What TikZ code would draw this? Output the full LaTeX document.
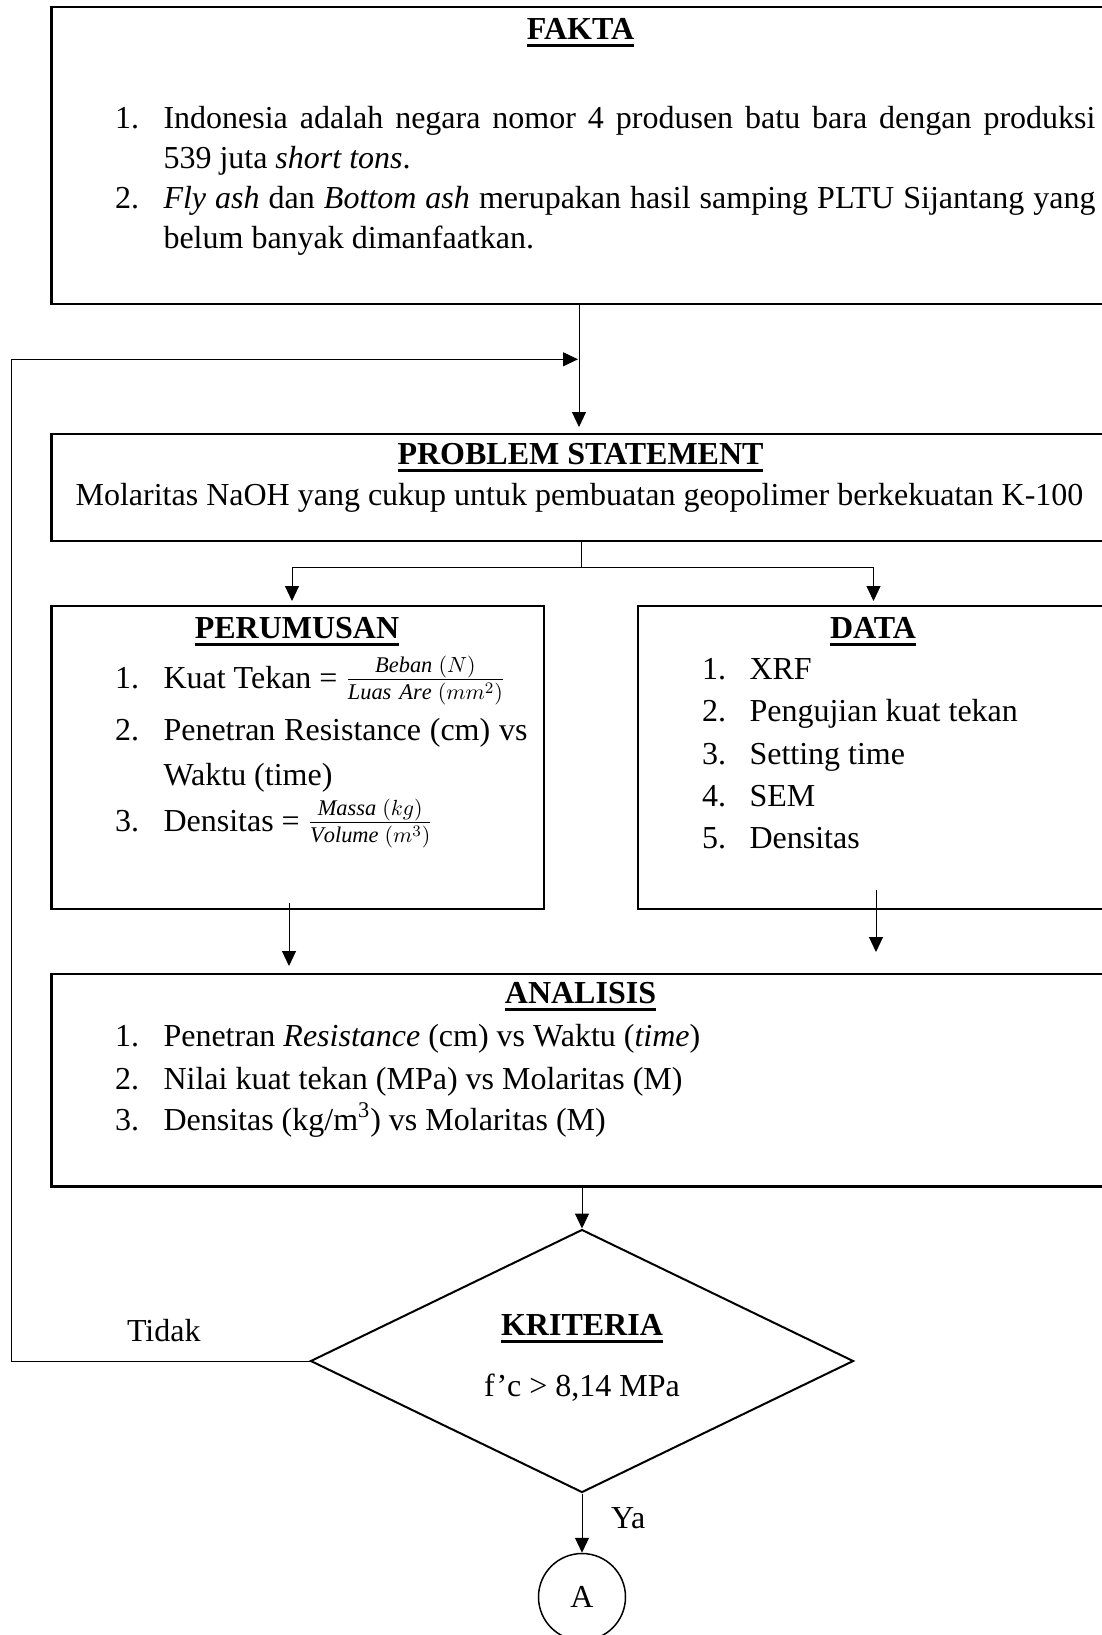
\documentclass[tikz,border=0pt]{standalone}
\usepackage{fontspec}
\setmainfont{Liberation Serif}
\usetikzlibrary{arrows.meta,shapes.geometric}

\newcommand{\isi}{\fontsize{16}{19}\selectfont}
\newcommand{\judul}[1]{{\bfseries\setbox0\hbox{#1}\rlap{\rule[-4pt]{\wd0}{1.6pt}}\box0}}

\tikzset{every picture/.style={line width=0.5pt}}
\tikzset{
  kotak/.style={draw, rectangle, line width=1.15pt, inner sep=0pt},
  belah/.style={draw, diamond, line width=1pt, inner sep=0pt, minimum width=271.5pt, minimum height=131.5pt},
  konektor/.style={draw, circle, line width=0.75pt, inner sep=0pt, minimum size=43.5pt, font=\isi},
  panah/.style={-{Triangle[length=7.5pt,width=7pt]}, line width=0.5pt},
  teks/.style={anchor=base west, inner sep=0pt, font=\isi},
  tengah/.style={anchor=base, inner sep=0pt, font=\isi},
}

\begin{document}
\begin{tikzpicture}[x=0.5pt,y=0.5pt,yscale=-1,xscale=1]
\useasboundingbox (0,0) rectangle (1102,1635);
\clip (0,0) rectangle (1102,1635);

%Boxes
\node[kotak, minimum width=531.9pt, minimum height=148.5pt] (fakta) at (583.4,155.8) {};
\node[kotak, minimum width=531.9pt, minimum height=53.35pt] (ps) at (583.4,487.3) {};
\node[kotak, minimum width=246.2pt, minimum height=151.65pt] (perumusan) at (297.8,757.4) {};
\node[kotak, minimum width=238.5pt, minimum height=151.65pt] (data) at (876.5,757.4) {};
\node[kotak, minimum width=531.9pt, minimum height=106.3pt] (analisis) at (583.4,1080.3) {};
\node[belah] (kriteria) at (582,1361) {};
\node[konektor] (lingA) at (582,1597) {A};

%Points
\coordinate (atas) at (578,359.3);
\coordinate (psin) at (579,427);
\coordinate (kiri) at (11.5,359.3);
\coordinate (cabang) at (581.7,567.3);
\coordinate (perin) at (292,601);
\coordinate (datin) at (873.5,601);
\coordinate (anaL) at (289,966);
\coordinate (anaR) at (876,952);

%Straight Lines
\draw[panah] (fakta.south -| psin) -- (psin);
\draw[panah] (kriteria.west) -| (kiri) -- (atas);
\draw (ps.south -| cabang) -- (cabang);
\draw[panah] (cabang) -| (perin);
\draw[panah] (cabang) -| (datin);
\draw[panah] ([yshift=-3.5pt]perumusan.south -| anaL) -- (anaL);
\draw[panah] ([yshift=-10pt]data.south -| anaR) -- (anaR);
\draw[panah] (analisis.south -| kriteria.north) -- (kriteria.north);
\draw[panah] (kriteria.south) -- (lingA.north);

% Text Node
\node[tengah] (tfakta) at (580.5,39) {\judul{FAKTA}};
\node[teks] (f1n) at (114.5,128) {1.};
\node[teks] (f1a) at (163,128) {\makebox[466pt][s]{Indonesia adalah negara nomor 4 produsen batu bara dengan produksi}};
\node[teks] (f1b) at (163,168) {539 juta \textit{short tons}.};
\node[teks] (f2n) at (114.5,208) {2.};
\node[teks] (f2a) at (163,208) {\makebox[466pt][s]{\textit{Fly ash} dan \textit{Bottom ash} merupakan hasil samping PLTU Sijantang yang}};
\node[teks] (f2b) at (163,248) {belum banyak dimanfaatkan.};

% Text Node
\node[tengah] (tps) at (580.5,464) {\judul{PROBLEM STATEMENT}};
\node[tengah] (ips) at (579.5,505) {Molaritas NaOH yang cukup untuk pembuatan geopolimer berkekuatan K-100};

% Text Node
\node[tengah] (tper) at (297,638) {\judul{PERUMUSAN}};
\node[teks] (p1n) at (114.5,688) {1.};
\node[teks] (p1a) at (163,688) {Kuat Tekan = $\frac{\mathit{Beban}\;(N)}{\mathit{Luas\ Are}\;(mm^2)}$};
\node[teks] (p2n) at (114.5,740) {2.};
\node[teks] (p2a) at (163,740) {\makebox[182pt][s]{Penetran Resistance (cm) vs}};
\node[teks] (p2b) at (163,785) {Waktu (time)};
\node[teks] (p3n) at (114.5,831) {3.};
\node[teks] (p3a) at (163,831) {Densitas = $\frac{\mathit{Massa}\;(kg)}{\mathit{Volume}\;(m^3)}$};

% Text Node
\node[tengah] (tdata) at (873,638) {\judul{DATA}};
\node[teks] (d1n) at (701.5,679) {1.};
\node[teks] (d1a) at (749,679) {XRF};
\node[teks] (d2n) at (701.5,721.7) {2.};
\node[teks] (d2a) at (749,721.7) {Pengujian kuat tekan};
\node[teks] (d3n) at (701.5,764) {3.};
\node[teks] (d3a) at (749,764) {Setting time};
\node[teks] (d4n) at (701.5,806) {4.};
\node[teks] (d4a) at (749,806) {SEM};
\node[teks] (d5n) at (701.5,848.3) {5.};
\node[teks] (d5a) at (749,848.3) {Densitas};

% Text Node
\node[tengah] (tana) at (580.5,1003.3) {\judul{ANALISIS}};
\node[teks] (a1n) at (114.5,1046.7) {1.};
\node[teks] (a1a) at (163,1046.7) {Penetran \textit{Resistance} (cm) vs Waktu (\textit{time})};
\node[teks] (a2n) at (114.5,1089) {2.};
\node[teks] (a2a) at (163,1089) {Nilai kuat tekan (MPa) vs Molaritas (M)};
\node[teks] (a3n) at (114.5,1130) {3.};
\node[teks] (a3a) at (163,1130) {Densitas (kg/m\textsuperscript{3}) vs Molaritas (M)};

% Text Node
\node[tengah] (tkrit) at (582,1335) {\judul{KRITERIA}};
\node[tengah] (ikrit) at (582,1396.7) {f’c > 8,14 MPa};
\node[teks] (tidak) at (126.5,1341.7) {Tidak};
\node[teks] (ya) at (610.7,1528.3) {Ya};

\end{tikzpicture}
\end{document}
